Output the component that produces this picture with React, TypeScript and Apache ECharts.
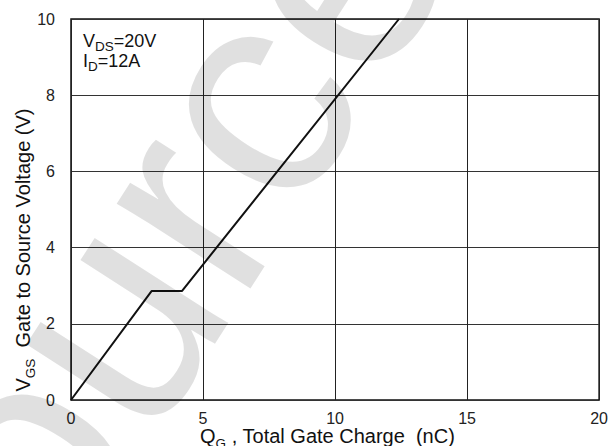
import React, { useEffect, useRef } from "react";
import * as echarts from "echarts";

const xTicks = [0, 5, 10, 15, 20];
const yTicks = [0, 2, 4, 6, 8, 10];
const chargeQg = [0, 3.05, 4.2, 12.42];
const voltageVgs = [0, 2.86, 2.86, 10];

export default function App() {
  const ref = useRef<HTMLDivElement>(null);
  useEffect(() => {
    if (!ref.current) return;
    const chart = echarts.init(ref.current, null, { renderer: "svg" });
    const font = "Arial";
    const data = chargeQg.map((x, i) => [x, voltageVgs[i]]);
    const richSmall = {
      a: { fontFamily: font, fontSize: 18, lineHeight: 20, color: "#111", verticalAlign: "middle" },
      s: { fontFamily: font, fontSize: 13.5, lineHeight: 9, color: "#111", verticalAlign: "middle", padding: [11, 0, 0, 0] },
    };
    const richBig = {
      a: { fontFamily: font, fontSize: 20, lineHeight: 24, color: "#111", verticalAlign: "middle" },
      s: { fontFamily: font, fontSize: 13.5, lineHeight: 9, color: "#111", verticalAlign: "middle", padding: [15, 0, 0, 0] },
    };
    chart.setOption({
      animation: false,
      backgroundColor: "#ffffff",
      grid: {
        left: 71,
        right: 10,
        top: 19,
        bottom: 46,
        show: true,
        borderColor: "#111",
        borderWidth: 1.5,
        backgroundColor: "transparent",
      },
      xAxis: {
        type: "value",
        min: xTicks[0],
        max: xTicks[xTicks.length - 1],
        interval: 5,
        axisLine: { show: false },
        axisTick: { show: false },
        splitLine: { show: true, lineStyle: { color: "#222", width: 1 } },
        axisLabel: { fontFamily: font, fontSize: 16, color: "#222", margin: 10 },
      },
      yAxis: {
        type: "value",
        min: yTicks[0],
        max: yTicks[yTicks.length - 1],
        interval: 2,
        axisLine: { show: false },
        axisTick: { show: false },
        splitLine: { show: true, lineStyle: { color: "#333", width: 1 } },
        axisLabel: { fontFamily: font, fontSize: 16, color: "#222", margin: 16 },
      },
      series: [
        {
          type: "line",
          data,
          symbol: "none",
          lineStyle: { color: "#111", width: 2 },
          z: 5,
        },
      ],
      graphic: [
        {
          type: "text",
          x: -10,
          y: 780,
          rotation: 1.0,
          silent: true,
          z: 100,
          style: {
            text: "Source",
            fontFamily: font,
            fontSize: 300,
            fill: "rgba(0,0,0,0.12)",
            verticalAlign: "bottom",
          },
        },
        {
          type: "text",
          x: 83,
          y: 30.5,
          z: 50,
          style: {
            text: "{a|V}{s|DS}{a|=20V}\n{a|I}{s|D}{a|=12A}",
            verticalAlign: "top",
            fill: "#111",
            rich: richSmall,
          },
        },
        {
          type: "text",
          x: 327.5,
          y: 424,
          z: 50,
          style: {
            text: "{a|Q}{s|G}{a| , Total Gate Charge  (nC)}",
            align: "center",
            verticalAlign: "top",
            fill: "#111",
            rich: richBig,
          },
        },
        {
          type: "text",
          x: 10.5,
          y: 250,
          rotation: Math.PI / 2,
          z: 50,
          style: {
            text: "{a|V}{s|GS}{a|  Gate to Source Voltage (V)}",
            align: "center",
            verticalAlign: "top",
            fill: "#111",
            rich: richBig,
          },
        },
      ],
    });
    return () => chart.dispose();
  }, []);
  return <div ref={ref} style={{ width: 611, height: 446, position: "absolute", left: 0, top: 0 }} />;
}
